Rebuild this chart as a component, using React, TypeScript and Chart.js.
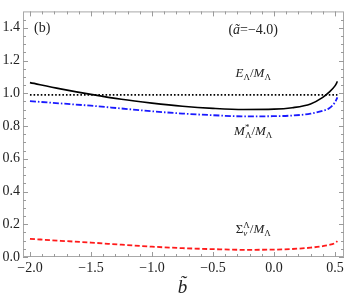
import React, { useEffect, useRef } from "react";
import { Chart, registerables } from "chart.js";

Chart.register(...registerables);

// b-tilde grid
const bGrid = [-2.0, -1.75, -1.5, -1.25, -1.0, -0.75, -0.5, -0.25, 0.0, 0.15, 0.3, 0.4, 0.45, 0.5, 0.52];
// E_Lambda / M_Lambda (black solid)
const eRatio = [1.065, 1.027, 0.993, 0.963, 0.94, 0.921, 0.908, 0.901, 0.903, 0.912, 0.935, 0.975, 1.005, 1.045, 1.072];
// M*_Lambda / M_Lambda (blue dash-dot)
const mStarRatio = [0.952, 0.938, 0.924, 0.907, 0.89, 0.876, 0.866, 0.859, 0.86, 0.864, 0.875, 0.893, 0.907, 0.945, 0.975];
// Sigma_v^Lambda / M_Lambda (red dashed)
const sigmaRatio = [0.111, 0.099, 0.088, 0.075, 0.063, 0.054, 0.048, 0.044, 0.045, 0.049, 0.057, 0.066, 0.073, 0.085, 0.097];
// reference level (black dotted)
const dottedLevel = [0.99, 0.99, 0.99, 0.99, 0.99, 0.99, 0.99, 0.99, 0.99, 0.99, 0.99, 0.99, 0.99, 0.99, 0.99];

const xTickValues = [-2.0, -1.5, -1.0, -0.5, 0.0, 0.5];
const yTickValues = [0.0, 0.2, 0.4, 0.6, 0.8, 1.0, 1.2, 1.4];
const xMinorTicks = [-2.0, -1.9, -1.8, -1.7, -1.6, -1.5, -1.4, -1.3, -1.2, -1.1, -1.0, -0.9, -0.8, -0.7, -0.6, -0.5, -0.4, -0.3, -0.2, -0.1, 0.0, 0.1, 0.2, 0.3, 0.4, 0.5];
const yMinorTicks = [0.0, 0.05, 0.1, 0.15, 0.2, 0.25, 0.3, 0.35, 0.4, 0.45, 0.5, 0.55, 0.6, 0.65, 0.7, 0.75, 0.8, 0.85, 0.9, 0.95, 1.0, 1.05, 1.1, 1.15, 1.2, 1.25, 1.3, 1.35, 1.4, 1.45];

// annotation anchor points (data coordinates)
const panelLabelPos = { x: -1.9, y: 1.405 };
const paramLabelPos = { x: -0.17, y: 1.395 };
const eLabelPos = { x: -0.17, y: 1.125 };
const mLabelPos = { x: -0.17, y: 0.77 };
const sLabelPos = { x: -0.17, y: 0.17 };

const SERIF = "'Liberation Serif', 'Times New Roman', serif";

type Part = { t: string; italic?: boolean; size: number; dy?: number; stackSub?: Part };

function drawRich(ctx: CanvasRenderingContext2D, parts: Part[], cx: number, cy: number) {
  const font = (p: Part) => `${p.italic ? "italic " : ""}${p.size}px ${SERIF}`;
  const widths = parts.map((p) => {
    ctx.font = font(p);
    let w = ctx.measureText(p.t).width;
    if (p.stackSub) {
      ctx.font = font(p.stackSub);
      w = Math.max(w, ctx.measureText(p.stackSub.t).width);
    }
    return w;
  });
  const total = widths.reduce((a, b) => a + b, 0);
  let x = cx - total / 2;
  ctx.textBaseline = "alphabetic";
  ctx.textAlign = "left";
  parts.forEach((p, i) => {
    ctx.font = font(p);
    ctx.fillText(p.t, x, cy + (p.dy || 0));
    if (p.stackSub) {
      ctx.font = font(p.stackSub);
      ctx.fillText(p.stackSub.t, x, cy + (p.stackSub.dy || 0));
    }
    x += widths[i];
  });
}

const framePlugin = {
  id: "mmaFrame",
  afterDraw(chart: any) {
    const { ctx, chartArea, scales } = chart;
    const { left, right, top, bottom } = chartArea;
    const xs = scales.x;
    const ys = scales.y;
    ctx.save();
    ctx.strokeStyle = "#a8a8a8";
    ctx.lineWidth = 1;
    ctx.strokeRect(left + 0.5, top + 0.5, right - left - 1, bottom - top - 1);
    ctx.strokeStyle = "#9a9a9a";
    ctx.beginPath();
    xMinorTicks.forEach((v) => {
      const px = Math.round(xs.getPixelForValue(v)) + 0.5;
      const major = xTickValues.some((m) => Math.abs(m - v) < 1e-6);
      const len = major ? 5 : 3;
      ctx.moveTo(px, bottom);
      ctx.lineTo(px, bottom - len);
      ctx.moveTo(px, top);
      ctx.lineTo(px, top + len);
    });
    yMinorTicks.forEach((v) => {
      const py = Math.round(ys.getPixelForValue(v)) + 0.5;
      const major = yTickValues.some((m) => Math.abs(m - v) < 1e-6);
      const len = major ? 5 : 3;
      ctx.moveTo(left, py);
      ctx.lineTo(left + len, py);
      ctx.moveTo(right, py);
      ctx.lineTo(right - len, py);
    });
    ctx.stroke();

    ctx.fillStyle = "#222";
    const P = (p: { x: number; y: number }) => [xs.getPixelForValue(p.x), ys.getPixelForValue(p.y)];
    let [ax, ay] = P(panelLabelPos);
    drawRich(ctx, [{ t: "(b)", size: 14 }], ax, ay + 5);
    [ax, ay] = P(paramLabelPos);
    drawRich(ctx, [{ t: "(", size: 14 }, { t: "ã", size: 14, italic: true }, { t: "=−4.0)", size: 14 }], ax, ay + 5);
    [ax, ay] = P(eLabelPos);
    drawRich(ctx, [
      { t: "E", size: 13, italic: true },
      { t: "Λ", size: 9, dy: 3 },
      { t: "/", size: 13 },
      { t: "M", size: 13, italic: true },
      { t: "Λ", size: 9, dy: 3 },
    ], ax, ay + 4);
    [ax, ay] = P(mLabelPos);
    drawRich(ctx, [
      { t: "M", size: 13, italic: true },
      { t: "*", size: 9, dy: -5, stackSub: { t: "Λ", size: 9, dy: 3 } },
      { t: "/", size: 13 },
      { t: "M", size: 13, italic: true },
      { t: "Λ", size: 9, dy: 3 },
    ], ax, ay + 4);
    [ax, ay] = P(sLabelPos);
    drawRich(ctx, [
      { t: "Σ", size: 13 },
      { t: "Λ", size: 9, dy: -5, stackSub: { t: "v", size: 9, italic: true, dy: 3 } },
      { t: "/", size: 13 },
      { t: "M", size: 13, italic: true },
      { t: "Λ", size: 9, dy: 3 },
    ], ax, ay + 4);

    // axis title
    ctx.font = `italic 19px ${SERIF}`;
    ctx.textAlign = "center";
    ctx.textBaseline = "alphabetic";
    ctx.fillText("b\u0303", (left + right) / 2 - 1, bottom + 36);
    ctx.restore();
  },
};

const mk = (vals: number[]) => bGrid.map((b, i) => ({ x: b, y: vals[i] }));

export default function App() {
  const ref = useRef<HTMLCanvasElement | null>(null);
  useEffect(() => {
    if (!ref.current) return;
    const common = { pointRadius: 0, fill: false, tension: 0.4, cubicInterpolationMode: "monotone" as const };
    const chart = new Chart(ref.current, {
      type: "scatter",
      data: {
        datasets: [
          { ...common, data: mk(dottedLevel), showLine: true, borderColor: "#000", borderWidth: 1.6, borderDash: [1.6, 2] },
          { ...common, data: mk(eRatio), showLine: true, borderColor: "#000", borderWidth: 1.6 },
          { ...common, data: mk(mStarRatio), showLine: true, borderColor: "#1a1aff", borderWidth: 1.8, borderDash: [6, 2, 1.5, 2] },
          { ...common, data: mk(sigmaRatio), showLine: true, borderColor: "#ff1a1a", borderWidth: 1.8, borderDash: [5, 2.5] },
        ],
      },
      options: {
        responsive: false,
        animation: false,
        events: [],
        layout: { padding: { top: 2, right: 5, left: 0, bottom: 0 } },
        plugins: { legend: { display: false }, tooltip: { enabled: false } },
        scales: {
          x: {
            type: "linear",
            min: -2.057,
            max: 0.574,
            grid: { display: false, drawTicks: false },
            border: { display: false },
            afterBuildTicks: (s: any) => {
              s.ticks = xTickValues.map((v) => ({ value: v }));
            },
            afterFit: (s: any) => {
              s.height = 51;
            },
            ticks: {
              padding: 3,
              maxRotation: 0,
              autoSkip: false,
              color: "#222",
              font: { family: SERIF, size: 14 },
              callback: (v: any) => (Number(v) < 0 ? "−" + Math.abs(Number(v)).toFixed(1) : Number(v).toFixed(1)),
            },
          },
          y: {
            type: "linear",
            min: 0,
            max: 1.5,
            grid: { display: false, drawTicks: false },
            border: { display: false },
            afterBuildTicks: (s: any) => {
              s.ticks = yTickValues.map((v) => ({ value: v }));
            },
            afterFit: (s: any) => {
              s.width = 23;
            },
            ticks: {
              padding: 3,
              autoSkip: false,
              color: "#222",
              font: { family: SERIF, size: 14 },
              callback: (v: any) => Number(v).toFixed(1),
            },
          },
        },
      },
      plugins: [framePlugin],
    });
    return () => chart.destroy();
  }, []);
  return (
    <div style={{ position: "fixed", left: 0, top: 0, width: 349, height: 308, background: "#fff" }}>
      <canvas ref={ref} width={349} height={308} style={{ display: "block" }} />
    </div>
  );
}
